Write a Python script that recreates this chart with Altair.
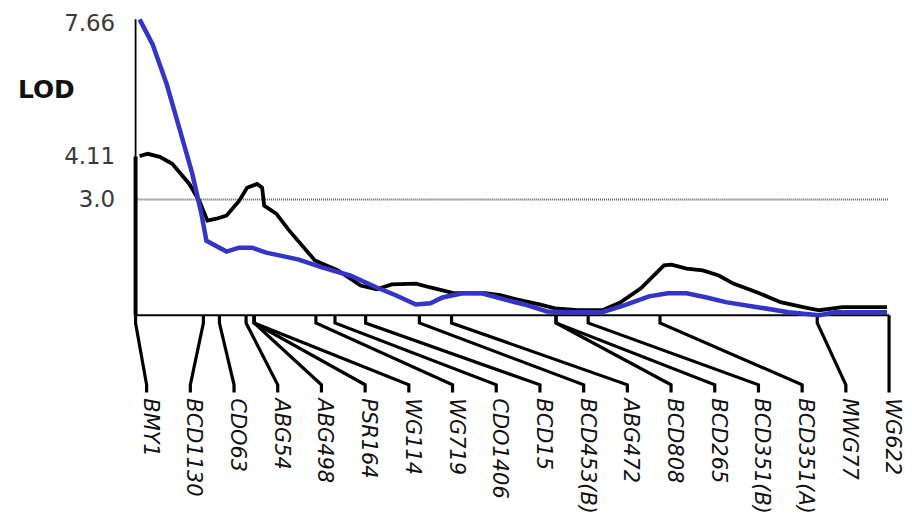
import altair as alt
import pandas as pd

# ---- data ----
markers = ["BMY1", "BCD1130", "CDO63", "ABG54", "ABG498", "PSR164", "WG114", "WG719",
           "CDO1406", "BCD15", "BCD453(B)", "ABG472", "BCD808", "BCD265", "BCD351(B)",
           "BCD351(A)", "MWG77", "WG622"]
marker_cm = [0, 13.5, 16.7, 22.0, 23.6, 23.6, 23.6, 35.9, 39.7, 45.8, 56.5, 62.9,
             83.7, 83.7, 90.1, 104.4, 135.7, 150.0]
label_slot = [2.2, 10.9, 19.6, 28.3, 37.0, 45.7, 54.4, 63.1, 71.8, 80.5, 89.2, 97.9,
              106.6, 115.3, 124.0, 132.7, 141.4, 150.0]

black_cm = [0.8, 2.4, 4.8, 7.3, 10.7, 12.7, 14.3, 16.1, 18.1, 20.6, 22.2, 24.2, 25.2,
            25.6, 28.0, 30.6, 35.7, 40.3, 44.8, 48.0, 51.0, 55.8, 58.7, 63.5, 69.6,
            72.6, 75.8, 80.4, 83.5, 88.1, 92.9, 96.6, 100.6, 105.2, 106.7, 109.7,
            112.9, 116.1, 119.0, 123.8, 128.4, 132.9, 136.1, 140.7, 149.6]
black_lod = [4.12, 4.18, 4.10, 3.92, 3.40, 2.96, 2.45, 2.50, 2.58, 2.96, 3.30, 3.40, 3.30,
             2.84, 2.63, 2.19, 1.42, 1.16, 0.77, 0.67, 0.80, 0.82, 0.72, 0.57, 0.57,
             0.52, 0.41, 0.28, 0.18, 0.13, 0.13, 0.34, 0.70, 1.29, 1.31, 1.21,
             1.16, 1.03, 0.82, 0.59, 0.34, 0.21, 0.13, 0.21, 0.21]

blue_cm = [0.8, 3.4, 6.2, 8.7, 11.3, 13.1, 14.1, 18.1, 20.6, 23.2, 26.0, 28.6, 32.5,
           37.1, 42.7, 48.0, 51.8, 55.8, 58.7, 61.1, 65.1, 68.9, 73.4, 77.4, 81.9,
           86.7, 92.9, 97.4, 102.2, 106.0, 109.7, 113.7, 117.5, 123.8, 130.0, 136.1,
           139.3, 149.6]
blue_lod = [7.66, 7.01, 5.98, 4.85, 3.66, 2.63, 1.93, 1.65, 1.75, 1.75, 1.62, 1.55, 1.44,
            1.24, 1.03, 0.72, 0.52, 0.28, 0.31, 0.46, 0.57, 0.57, 0.41, 0.28, 0.10,
            0.08, 0.08, 0.26, 0.49, 0.57, 0.57, 0.46, 0.34, 0.21, 0.08, 0.0,
            0.08, 0.08]

threshold = 3.0
lod_max = 7.66
lod_peak_black = 4.11
chrom_len = 150.0
connector_levels = [0, -0.2, -1.8, -2.0]
label_y = -2.15

# ---- tables ----
rows = []
for m, cm, slot in zip(markers, marker_cm, label_slot):
    pts = [cm, cm, slot, slot]
    for k, (xv, yv) in enumerate(zip(pts, connector_levels)):
        rows.append({"marker": m, "x": xv, "y": yv, "k": k})
conn_df = pd.DataFrame(rows)
label_df = pd.DataFrame({"marker": markers, "x": label_slot, "y": [label_y] * len(markers)})
black_df = pd.DataFrame({"x": black_cm, "y": black_lod})
blue_df = pd.DataFrame({"x": blue_cm, "y": blue_lod})
hline_df = pd.DataFrame({"x": [0.0, 0.0], "x2": [chrom_len, chrom_len], "y": [threshold, 0.0],
                         "kind": ["thr", "base"]})
vaxis_df = pd.DataFrame({"x": [0.0, 0.0], "y": [0.0, 0.0], "y2": [lod_max, lod_peak_black],
                         "w": ["thin", "thick"]})

xs = alt.Scale(domain=[0, chrom_len], nice=False, zero=False)
ys = alt.Scale(domain=[-5.2, 7.7], nice=False, zero=False)
yaxis = alt.Axis(values=[7.66, 4.11, 3.0],
                 labelExpr="datum.value == 3 ? '3.0' : format(datum.value, '.2f')",
                 ticks=False, domain=False, grid=False, labelFlush=False, labelOverlap=False,
                 labelOffset={"condition": {"test": "datum.value > 7", "value": 4}, "value": 0},
                 labelFontSize=23, labelFont="DejaVu Sans", labelColor="#3a3a3a",
                 labelPadding=21, title="LOD", titleAngle=0, titleFontSize=25,
                 titleFont="DejaVu Sans", titleFontWeight="bold", titleColor="#111111",
                 titleX=-90, titleY=72, titleAlign="center", titleBaseline="middle")


def X(f="x"):
    return alt.X(f"{f}:Q", scale=xs, axis=None)


def Y(f="y"):
    return alt.Y(f"{f}:Q", scale=ys, axis=yaxis)


thr = alt.Chart(hline_df).transform_filter("datum.kind == 'thr'").mark_rule(
    color="#5a5a5a", strokeWidth=2, strokeDash=[1, 1]).encode(x=X(), x2="x2:Q", y=Y())
base = alt.Chart(hline_df).transform_filter("datum.kind == 'base'").mark_rule(
    color="black", strokeWidth=2.2).encode(x=X(), x2="x2:Q", y=Y())
vthin = alt.Chart(vaxis_df).transform_filter("datum.w == 'thin'").mark_rule(
    color="black", strokeWidth=1.8).encode(x=X(), y=Y(), y2="y2:Q")
vthick = alt.Chart(vaxis_df).transform_filter("datum.w == 'thick'").mark_rule(
    color="black", strokeWidth=4).encode(x=X(), y=Y(), y2="y2:Q")
conn = alt.Chart(conn_df).mark_line(color="black", strokeWidth=3.2).encode(
    x=X(), y=Y(), detail="marker:N", order="k:Q")
black = alt.Chart(black_df).mark_line(color="black", strokeWidth=3.8).encode(x=X(), y=Y())
blue = alt.Chart(blue_df).mark_line(color="#3434C8", strokeWidth=4.5).encode(x=X(), y=Y())
labels = alt.Chart(label_df).mark_text(angle=90, align="left", baseline="middle",
                                        font="DejaVu Sans", fontStyle="italic", fontSize=21,
                                        color="#111111", dy=-3).encode(
    x=X(), y=Y(), text="marker:N")

chart = alt.layer(thr, base, vthin, vthick, conn, black, blue, labels).properties(
    width=756, height=500,
    padding={"left": 128, "top": 9, "right": 15, "bottom": 0},
    autosize=alt.AutoSizeParams(type="none"),
).configure_view(stroke=None)

chart.save("out.html", embed_options={"renderer": "svg", "actions": False})
